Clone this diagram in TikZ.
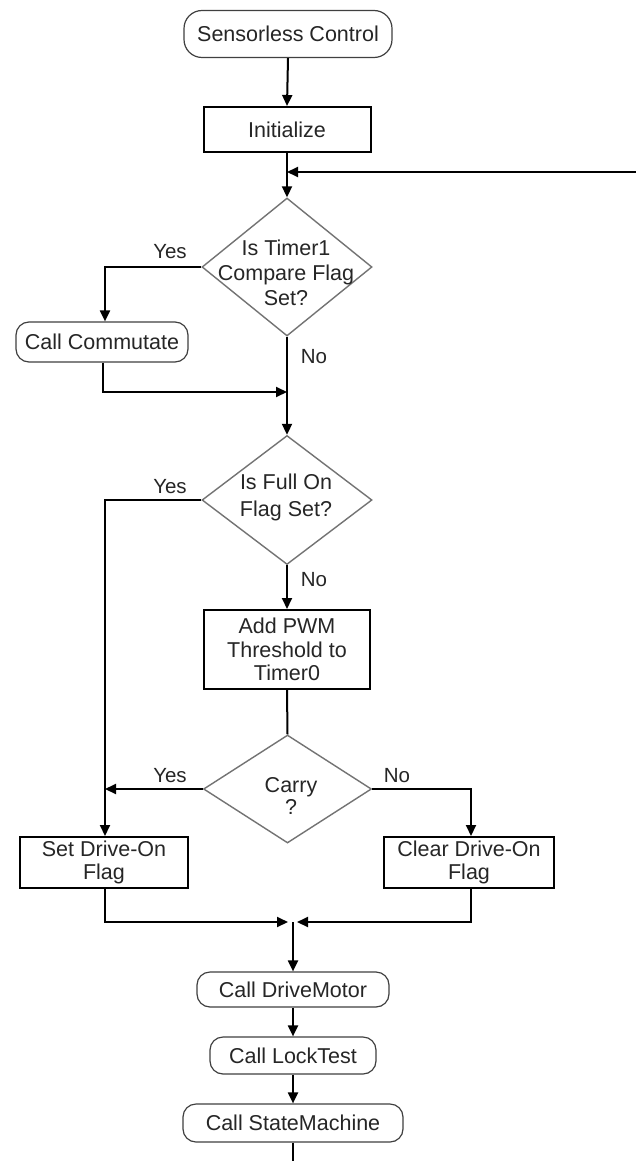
\documentclass[tikz,border=0pt]{standalone}
\usepackage{fontspec}
\setmainfont{Liberation Sans}
\usetikzlibrary{shapes.geometric,arrows.meta}
\begin{document}
\begin{tikzpicture}[x=1pt,y=-1pt,
  every node/.style={font=\fontsize{21.5}{25}\selectfont, text=black!85, align=center, inner sep=0pt},
  procbox/.style={draw=black, line width=2pt},
  termbox/.style={draw=black!75, line width=1.2pt, rounded corners=13pt},
  decision/.style={draw=black!55, line width=1.4pt, shape=diamond},
  lbl/.style={font=\fontsize{20.5}{22}\selectfont},
  conn/.style={draw=black, line width=2pt},
  arr/.style={conn, -{Triangle[length=11pt,width=10pt]}}
]
\useasboundingbox[fill=white] (0,0) rectangle (636,1161);

% nodes
\node[termbox, rounded corners=18pt, minimum width=208pt, minimum height=47pt] (start) at (288,34) {Sensorless Control};
\node[procbox, minimum width=167pt, minimum height=45pt] (init) at (287,129.5) {Initialize};

\node[decision, minimum width=170pt, minimum height=138pt] (d1) at (287,267) {};
\node (d1t) at (286,273) {Is Timer1\\Compare Flag\\Set?};

\node[termbox, minimum width=172pt, minimum height=40pt] (cc) at (102,342) {Call Commutate};

\node[decision, minimum width=170pt, minimum height=129pt] (d2) at (287,500) {};
\node[font=\fontsize{21.5}{27}\selectfont] (d2t) at (286,497) {Is Full On\\Flag Set?};

\node[procbox, minimum width=166pt, minimum height=79pt, font=\fontsize{21.5}{23.5}\selectfont] (pwm) at (287,649.5) {Add PWM\\Threshold to\\Timer0};

\node[decision, minimum width=168pt, minimum height=108pt] (d3) at (287.5,789) {};
\node[font=\fontsize{21.5}{22}\selectfont] (d3t) at (291,796) {Carry\\?};

\node[procbox, minimum width=168pt, minimum height=51pt, font=\fontsize{21.5}{23}\selectfont] (sd) at (104,862.5) {Set Drive-On\\Flag};
\node[procbox, minimum width=170pt, minimum height=51pt, font=\fontsize{21.5}{23}\selectfont] (cd) at (469,862.5) {Clear Drive-On\\Flag};

\node[termbox, minimum width=192pt, minimum height=35pt] (dm) at (293,989.5) {Call DriveMotor};
\node[termbox, minimum width=166pt, minimum height=37pt] (lt) at (293,1055.5) {Call LockTest};
\node[termbox, minimum width=220pt, minimum height=38pt] (sm) at (293,1123) {Call StateMachine};

% labels
\node[lbl] (y1) at (170,252) {Yes};
\node[lbl] (n1) at (314,357) {No};
\node[lbl] (y2) at (170,487) {Yes};
\node[lbl] (n2) at (314,580) {No};
\node[lbl] (y3) at (170,776) {Yes};
\node[lbl] (n3) at (397,776) {No};

% coordinates
\coordinate (fb) at (636,172);
\coordinate (j1) at (287,172);
\coordinate (j2) at (287,392);
\coordinate (ml) at (288,922);
\coordinate (mr) at (297,922);
\coordinate (mm) at (293,922);
\coordinate (endc) at (293,1161);
\coordinate (ccin) at ([xshift=3pt]cc.north);
\coordinate (ccout) at ([xshift=1pt]cc.south);
\coordinate (sdin) at ([xshift=1pt]sd.north);
\coordinate (sdout) at ([xshift=1pt]sd.south);
\coordinate (cdin) at ([xshift=2pt]cd.north);
\coordinate (cdout) at ([xshift=2pt]cd.south);

% connectors
\draw[arr] (start.south) -- (init.north);
\draw[arr] (init.south) -- (d1.north);
\draw[arr] (fb) -- (j1);
\draw[arr] (d1.west) -| (ccin);
\draw[arr] (ccout) |- (j2);
\draw[arr] (d1.south) -- (d2.north);
\draw[arr] (d2.west) -| (sdin);
\draw[arr] (d2.south) -- (pwm.north);
\draw[conn] (pwm.south) -- (d3.north);
\draw[arr] (d3.west) -- (d3.west -| sdin);
\draw[arr] (d3.east) -| (cdin);
\draw[arr] (sdout) |- (ml);
\draw[arr] (cdout) |- (mr);
\draw[arr] (mm) -- (dm.north);
\draw[arr] (dm.south) -- (lt.north);
\draw[arr] (lt.south) -- (sm.north);
\draw[conn] (sm.south) -- (endc);
\end{tikzpicture}
\end{document}
